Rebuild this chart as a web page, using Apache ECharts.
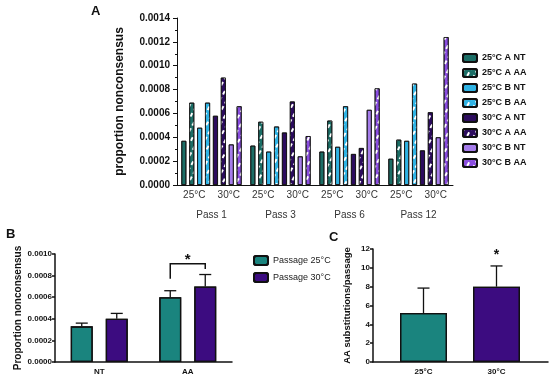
<!DOCTYPE html>
<html><head><meta charset="utf-8">
<script src="https://cdn.jsdelivr.net/npm/echarts@6/dist/echarts.min.js"></script>
<style>html,body{margin:0;padding:0;background:#fff}#c{width:550px;height:383px}</style>
</head><body><div id="c"></div>
<script>
// ---------- Panel A data ----------
const passes = ['Pass 1', 'Pass 3', 'Pass 6', 'Pass 12'];
const tempLabels = ['25°C', '30°C', '25°C', '30°C', '25°C', '30°C', '25°C', '30°C'];
const aNames = ['25°C A NT', '25°C A AA', '25°C B NT', '25°C B AA', '30°C A NT', '30°C A AA', '30°C B NT', '30°C B AA'];
const a25A_NT = [0.00037, 0.00033, 0.00028, 0.00022];
const a25A_AA = [0.00069, 0.00053, 0.00054, 0.00038];
const a25B_NT = [0.00048, 0.00028, 0.00032, 0.00037];
const a25B_AA = [0.00069, 0.00049, 0.00066, 0.00085];
const a30A_NT = [0.00058, 0.00044, 0.00026, 0.00029];
const a30A_AA = [0.00090, 0.00070, 0.00031, 0.00061];
const a30B_NT = [0.00034, 0.00024, 0.00063, 0.00040];
const a30B_AA = [0.00066, 0.00041, 0.00081, 0.00124];
const aValues = [a25A_NT, a25A_AA, a25B_NT, a25B_AA, a30A_NT, a30A_AA, a30B_NT, a30B_AA];

// ---------- Panel B data ----------
const bCategories = ['NT', 'AA'];
const bNames = ['Passage 25°C', 'Passage 30°C'];
const b25 = [0.00033, 0.00060];
const b25ErrTop = [0.00036, 0.00066];
const b30 = [0.00040, 0.00070];
const b30ErrTop = [0.00045, 0.00081];
// significance bracket on AA: [category index, bracket level, left foot, right foot, star level]
const bSig = [1, 0.00091, 0.00077, 0.00086, 0.00095];

// ---------- Panel C data ----------
const cCategories = ['25°C', '30°C'];
const cValues = [5.2, 8.0];
const cErrTop = [7.85, 10.2];
const cSig = [1, 11.4];

// ---------- styles ----------
const FONT = 'Liberation Sans, Arial, sans-serif';
const aColors = ['#1b6e66', '#1b6e66', '#2fb3e4', '#2fb3e4', '#2c0c5e', '#2c0c5e', '#a57ceb', '#8a4de0'];
const tealB = '#1a847e', purpleB = '#3c0c80';
const stripe = {
  symbol: 'rect', symbolSize: 1, color: '#ffffff',
  dashArrayX: [1.5, 3.5], dashArrayY: [3.4, 2.8], rotation: 0.5
};
const noDecal = {symbol: 'none'};

const chart = echarts.init(document.getElementById('c'), null, {renderer: 'canvas'});

const aSeries = aNames.map((n, i) => ({
  name: n, type: 'bar', xAxisIndex: 0, yAxisIndex: 0,
  data: aValues[i], barWidth: 5, barGap: '58%',
  itemStyle: {color: aColors[i], borderColor: '#111', borderWidth: 0.8,
    decal: (i % 2 === 1) ? stripe : noDecal}
}));

const B_W = 22, B_GAP = 13;
function errRender(dir, barW, gap) {
  return function (params, api) {
    const top = api.coord([api.value(0), api.value(1)]);
    const base = api.coord([api.value(0), api.value(2)]);
    const x = top[0] + dir * (barW + gap) / 2;
    const cap = 6;
    return {type: 'group', children: [
      {type: 'line', shape: {x1: x, y1: base[1], x2: x, y2: top[1]}, style: {stroke: '#111', lineWidth: 1.3}},
      {type: 'line', shape: {x1: x - cap, y1: top[1], x2: x + cap, y2: top[1]}, style: {stroke: '#111', lineWidth: 1.3}}
    ]};
  };
}

const option = {
  animation: false,
  backgroundColor: '#fff',
  aria: {enabled: true, label: {enabled: false}, decal: {show: true}},
  textStyle: {fontFamily: FONT},
  graphic: [
    {type: 'text', left: 91, top: 5, style: {text: 'A', font: 'bold 13px ' + FONT, fill: '#111'}},
    {type: 'text', left: 6, top: 228, style: {text: 'B', font: 'bold 13px ' + FONT, fill: '#111'}},
    {type: 'text', left: 329, top: 231, style: {text: 'C', font: 'bold 13px ' + FONT, fill: '#111'}}
  ],
  legend: [
    {data: aNames, orient: 'vertical', left: 457, top: 48, itemWidth: 14, itemHeight: 8, itemGap: 5,
      textStyle: {fontFamily: FONT, fontWeight: 'bold', fontSize: 9, color: '#111'}},
    {data: bNames, orient: 'vertical', left: 248, top: 250, itemWidth: 14, itemHeight: 9, itemGap: 6,
      textStyle: {fontFamily: FONT, fontSize: 9, color: '#222'}}
  ],
  grid: [
    {left: 177, top: 18, width: 276, height: 167},
    {left: 55, top: 254, width: 177, height: 108},
    {left: 373, top: 249, width: 175, height: 113},
    {left: 387, top: 249, width: 146, height: 113}
  ],
  xAxis: [
    {type: 'category', gridIndex: 0, data: passes, position: 'bottom',
      axisLine: {lineStyle: {color: '#111', width: 1}}, axisTick: {show: false},
      axisLabel: {margin: 25, fontSize: 10, color: '#333', fontFamily: FONT}},
    {type: 'category', gridIndex: 0, data: tempLabels, position: 'bottom',
      axisLine: {show: false}, axisTick: {show: false},
      axisLabel: {margin: 5, fontSize: 10, color: '#333', fontFamily: FONT, interval: 0}},
    {type: 'category', gridIndex: 1, data: bCategories,
      axisLine: {lineStyle: {color: '#111', width: 1.5}}, axisTick: {alignWithLabel: true, length: 4, lineStyle: {color: '#111', width: 1.5}},
      axisLabel: {margin: 6, fontSize: 8, fontWeight: 'bold', color: '#111', fontFamily: FONT}},
    {type: 'value', gridIndex: 2, min: 0, max: 1,
      axisLine: {show: true, lineStyle: {color: '#111', width: 1.5}}, axisTick: {show: false},
      axisLabel: {show: false}, splitLine: {show: false}},
    {type: 'category', gridIndex: 3, data: cCategories,
      axisLine: {show: false}, axisTick: {alignWithLabel: true, length: 4, lineStyle: {color: '#111', width: 1.5}},
      axisLabel: {margin: 6, fontSize: 8, fontWeight: 'bold', color: '#111', fontFamily: FONT}}
  ],
  yAxis: [
    {type: 'value', gridIndex: 0, min: 0, max: 0.0014, interval: 0.0002,
      name: 'proportion nonconsensus', nameLocation: 'middle', nameGap: 51,
      nameTextStyle: {fontSize: 12, fontWeight: 'bold', color: '#111', fontFamily: FONT},
      axisLine: {show: true, lineStyle: {color: '#111'}},
      axisTick: {show: true, length: 4, lineStyle: {color: '#111'}},
      minorTick: {show: true, splitNumber: 2, length: 2, lineStyle: {color: '#111'}},
      axisLabel: {fontSize: 10, fontWeight: 'bold', color: '#111', margin: 7, fontFamily: FONT,
        formatter: v => v.toFixed(4)},
      splitLine: {show: false}},
    {type: 'value', gridIndex: 1, min: 0, max: 0.001, interval: 0.0002,
      name: 'Proportion nonconsensus', nameLocation: 'middle', nameGap: 29,
      nameTextStyle: {fontSize: 10, fontWeight: 'bold', color: '#111', fontFamily: FONT},
      axisLine: {show: true, lineStyle: {color: '#111', width: 1.5}},
      axisTick: {show: true, length: 3, lineStyle: {color: '#111', width: 1.5}},
      axisLabel: {fontSize: 8, fontWeight: 'bold', color: '#111', margin: 3, fontFamily: FONT,
        formatter: v => v.toFixed(4)},
      splitLine: {show: false}},
    {type: 'value', gridIndex: 2, min: 0, max: 12, interval: 2,
      name: 'AA substitutions/passage', nameLocation: 'middle', nameGap: 21,
      nameTextStyle: {fontSize: 9.5, fontWeight: 'bold', color: '#111', fontFamily: FONT},
      axisLine: {show: true, lineStyle: {color: '#111', width: 1.5}},
      axisTick: {show: true, length: 3, lineStyle: {color: '#111', width: 1.5}},
      axisLabel: {fontSize: 8, fontWeight: 'bold', color: '#111', margin: 3, fontFamily: FONT},
      splitLine: {show: false}},
    {type: 'value', gridIndex: 3, min: 0, max: 12, show: false, splitLine: {show: false}}
  ],
  series: aSeries.concat([
    {name: bNames[0], type: 'bar', xAxisIndex: 2, yAxisIndex: 1, data: b25, barWidth: B_W, barGap: (B_GAP / B_W * 100) + '%',
      itemStyle: {color: tealB, borderColor: '#111', borderWidth: 1.3, decal: noDecal}},
    {name: bNames[1], type: 'bar', xAxisIndex: 2, yAxisIndex: 1, data: b30, barWidth: B_W, barGap: (B_GAP / B_W * 100) + '%',
      itemStyle: {color: purpleB, borderColor: '#111', borderWidth: 1.3, decal: noDecal}},
    {type: 'custom', xAxisIndex: 2, yAxisIndex: 1, z: 5,
      data: b25ErrTop.map((v, i) => [i, v, b25[i]]), renderItem: errRender(-1, B_W, B_GAP)},
    {type: 'custom', xAxisIndex: 2, yAxisIndex: 1, z: 5,
      data: b30ErrTop.map((v, i) => [i, v, b30[i]]), renderItem: errRender(1, B_W, B_GAP)},
    {type: 'custom', xAxisIndex: 2, yAxisIndex: 1, z: 5, data: [bSig],
      renderItem: function (params, api) {
        const c = api.coord([api.value(0), api.value(1)]);
        const fl = api.coord([api.value(0), api.value(2)]);
        const fr = api.coord([api.value(0), api.value(3)]);
        const st = api.coord([api.value(0), api.value(4)]);
        const d = (B_W + B_GAP) / 2;
        return {type: 'group', children: [
          {type: 'polyline', shape: {points: [[c[0] - d, fl[1]], [c[0] - d, c[1]], [c[0] + d, c[1]], [c[0] + d, fr[1]]]},
            style: {stroke: '#111', lineWidth: 1.5, fill: null}},
          {type: 'text', x: st[0], y: st[1], style: {text: '*', font: 'bold 15px ' + FONT, fill: '#111', align: 'center', verticalAlign: 'middle'}}
        ]};
      }},
    {name: 'C', type: 'bar', xAxisIndex: 4, yAxisIndex: 3, barWidth: 47,
      data: cValues.map((v, i) => ({value: v, itemStyle: {color: i === 0 ? tealB : purpleB}})),
      itemStyle: {borderColor: '#111', borderWidth: 1.3, decal: noDecal}},
    {type: 'custom', xAxisIndex: 4, yAxisIndex: 3, z: 5,
      data: cErrTop.map((v, i) => [i, v, cValues[i]]), renderItem: errRender(0, 0, 0)},
    {type: 'custom', xAxisIndex: 4, yAxisIndex: 3, z: 5, data: [cSig],
      renderItem: function (params, api) {
        const p = api.coord([api.value(0), api.value(1)]);
        return {type: 'text', x: p[0], y: p[1], style: {text: '*', font: 'bold 14px ' + FONT, fill: '#111', align: 'center', verticalAlign: 'middle'}};
      }}
  ])
};
chart.setOption(option);
</script>
</body></html>
